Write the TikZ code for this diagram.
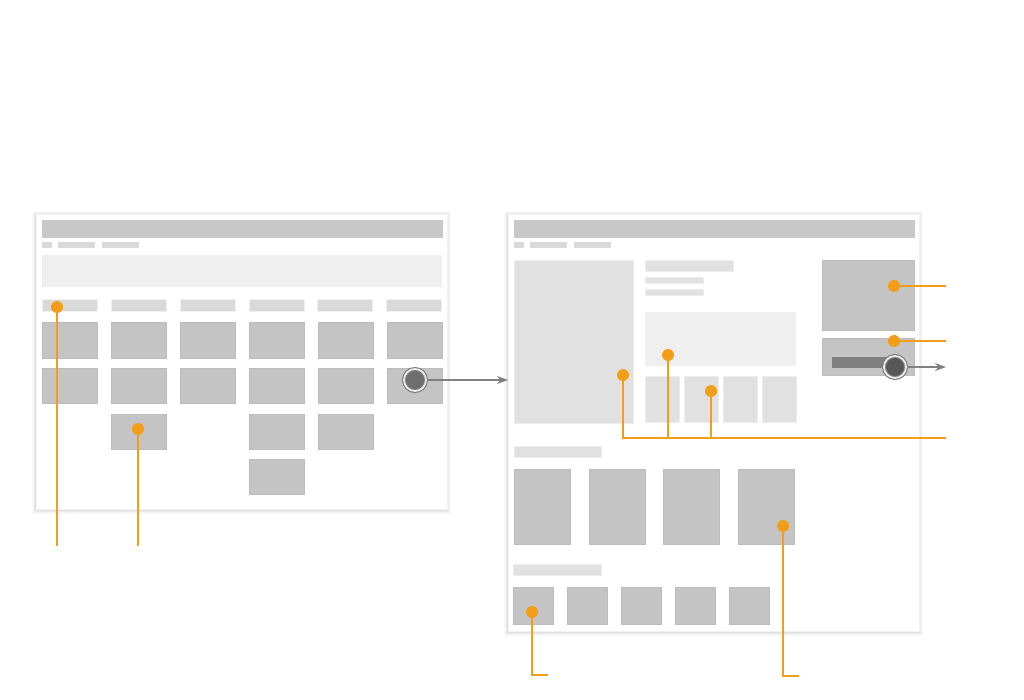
\documentclass[tikz,border=0pt]{standalone}
\usetikzlibrary{arrows.meta}

\definecolor{orng}{HTML}{F29E18}
\definecolor{tilegray}{HTML}{C4C4C4}
\definecolor{tileedge}{HTML}{BCBCBC}
\definecolor{headgray}{HTML}{C8C8C8}
\definecolor{palegray}{HTML}{E1E1E1}
\definecolor{palergray}{HTML}{EFEFEF}
\definecolor{crumbgray}{HTML}{D9D9D9}
\definecolor{arrowgray}{HTML}{808080}
\definecolor{ringgray}{HTML}{7A7A7A}

\newcommand\blk[5]{\path[#1] (#2,#3) rectangle (#4,#5);}

\tikzset{
  pageframe/.style={fill=white, draw=black!5, line width=0.5pt},
  header/.style={fill=headgray, draw=black!22, line width=0.4pt},
  crumb/.style={fill=crumbgray},
  tab/.style={fill=crumbgray, draw=black!6, line width=0.5pt},
  banner/.style={fill=palergray},
  tile/.style={fill=tilegray, draw=tileedge, line width=0.5pt},
  paletile/.style={fill=palegray, draw=black!7, line width=0.5pt},
  dot/.style={circle, fill=orng, inner sep=0pt, minimum size=12pt},
  lead/.style={draw=orng, line width=1.7pt},
  btn/.style={circle, inner sep=0pt, minimum size=22pt, fill=#1,
    draw=ringgray, line width=1.1pt, double=white!92!black, double distance=1.8pt},
  flow/.style={draw=arrowgray, line width=1.4pt, -{Stealth[length=11pt,width=8pt]}}
}

\begin{document}
\begin{tikzpicture}[x=1pt,y=-1pt]
\useasboundingbox (0,0) rectangle (1024,700);

% ---------- soft page shadows ----------
\foreach \i/\o in {4/0.02,3/0.025,2/0.035,1/0.05}{
  \fill[black,opacity=\o] (36-\i,214-\i+1) rectangle (447+\i,509+\i+1);
  \fill[black,opacity=\o] (508-\i,214-\i+1) rectangle (919+\i,631+\i+1);
}

% ---------- listing page ----------
\blk{pageframe}{36}{214}{447}{509}
\blk{header}{42}{220}{442}{237}
\blk{crumb}{42}{242}{52}{248}
\blk{crumb}{58}{242}{95}{248}
\blk{crumb}{102}{242}{139}{248}
\blk{banner}{42}{255}{442}{287}
\foreach \x in {42,111,180,249,317,386}{
  \blk{tab}{\x}{299}{\x+55}{311}
}
\foreach \x in {42,111,180,249,318,387}{
  \blk{tile}{\x}{322}{\x+55}{358}
  \blk{tile}{\x}{368}{\x+55}{403}
}
\foreach \x in {111,249,318}{
  \blk{tile}{\x}{414}{\x+55}{449}
}
\blk{tile}{249}{459}{304}{494}

% ---------- detail page ----------
\blk{pageframe}{508}{214}{919}{631}
\blk{header}{514}{220}{914}{237}
\blk{crumb}{514}{242}{524}{248}
\blk{crumb}{530}{242}{567}{248}
\blk{crumb}{574}{242}{611}{248}
\blk{paletile}{514}{260}{633}{423}
\blk{paletile}{645}{260}{733}{271}
\blk{paletile}{645}{277}{703}{283}
\blk{paletile}{645}{289}{703}{295}
\blk{banner}{645}{312}{796}{366}
\foreach \x in {645,684,723,762}{
  \blk{paletile}{\x}{376}{\x+34}{422}
}
\blk{tile}{822}{260}{914}{330}
\blk{tile}{822}{338}{914}{375}
\fill[arrowgray] (832,357) rectangle (895,368);
\blk{paletile}{514}{446}{601}{457}
\foreach \x in {514,589,663,738}{
  \blk{tile}{\x}{469}{\x+56}{544}
}
\blk{paletile}{513}{564}{601}{575}
\foreach \x in {513,567,621,675,729}{
  \blk{tile}{\x}{587}{\x+40}{624}
}

% ---------- call-outs ----------
\node[dot] (tabdot)   at (57,307)  {};
\node[dot] (tiledot)  at (138,429) {};
\node[dot] (imgdot)   at (623,375) {};
\node[dot] (descdot)  at (668,355) {};
\node[dot] (thumbdot) at (711,391) {};
\node[dot] (promodot) at (894,286) {};
\node[dot] (cartdot)  at (894,341) {};
\node[dot] (reldot)   at (783,526) {};
\node[dot] (recdot)   at (532,612) {};

\coordinate (tabend)   at (57,546);
\coordinate (tileend)  at (138,546);
\coordinate (galbus)   at (623,438);
\coordinate (galend)   at (946,438);
\coordinate (promoend) at (946,286);
\coordinate (cartend)  at (946,341);
\coordinate (relend)   at (799,676);
\coordinate (recend)   at (548,675);

\draw[lead] (tabdot.center) -- (tabend);
\draw[lead] (tiledot.center) -- (tileend);
\draw[lead] (imgdot.center) |- (galend);
\draw[lead] (descdot.center) -- (descdot.center |- galbus);
\draw[lead] (thumbdot.center) -- (thumbdot.center |- galbus);
\draw[lead] (promodot.center) -- (promoend);
\draw[lead] (cartdot.center) -- (cartend);
\draw[lead] (reldot.center) |- (relend);
\draw[lead] (recdot.center) |- (recend);

% ---------- tap targets and flow ----------
\node[btn=black!57] (openbtn) at (415,380) {};
\coordinate (detailin) at (508,380);
\draw[flow] (openbtn.east) -- (detailin);

\node[btn=black!66] (cartbtn) at (895,367) {};
\coordinate (checkout) at (946,367);
\draw[flow] (cartbtn.east) -- (checkout);

\end{tikzpicture}
\end{document}
